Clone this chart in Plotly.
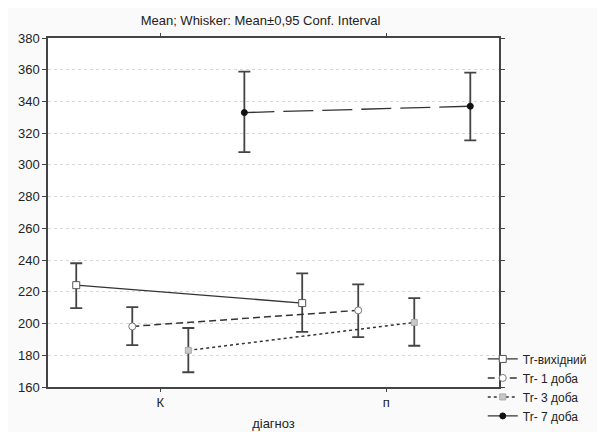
import plotly.graph_objects as go

categories = ["К", "п"]
series_names = ["Tr-вихідний", "Tr- 1 доба", "Tr- 3 доба", "Tr- 7 доба"]
means = [
    [224.2, 212.9],
    [198.2, 208.3],
    [183.1, 200.7],
    [333.0, 337.0],
]
upper = [
    [238.0, 231.6],
    [210.4, 224.7],
    [197.2, 216.0],
    [358.8, 358.2],
]
lower = [
    [209.7, 194.8],
    [186.4, 191.5],
    [169.3, 186.0],
    [308.0, 315.5],
]
y_ticks = list(range(160, 381, 20))

offsets = [-0.372, -0.124, 0.124, 0.372]
dashes = ["solid", "7px,4px", "dot", "30px,9px"]
symbols = ["square", "circle", "square", "circle"]
mfill = ["white", "white", "#c8c8c8", "#111111"]
mline = ["#555555", "#777777", "#aaaaaa", "#111111"]
msize = [7, 7, 6, 6]
lwidth = [1.3, 1.5, 1.5, 1.3]

fig = go.Figure()
for i, name in enumerate(series_names):
    xs = [j + offsets[i] for j in range(len(categories))]
    fig.add_trace(go.Scatter(
        x=xs, y=means[i], name=name, mode="lines+markers",
        line=dict(color="#333333", width=lwidth[i], dash=dashes[i]),
        marker=dict(symbol=symbols[i], size=msize[i], color=mfill[i],
                    line=dict(color=mline[i], width=1)),
        error_y=dict(type="data", symmetric=False,
                     array=[u - m for u, m in zip(upper[i], means[i])],
                     arrayminus=[m - l for l, m in zip(lower[i], means[i])],
                     color="#444444", thickness=1.8, width=6),
    ))

# the page body adds an 8px margin, so the figure is sized/offset to compensate
fig.update_layout(
    width=597, height=424,
    margin=dict(l=40, r=106, t=30, b=45, autoexpand=False),
    paper_bgcolor="#fafafa", plot_bgcolor="white",
    font=dict(family="Liberation Sans, Arial, sans-serif", size=13, color="#222222"),
    title=dict(text="Mean; Whisker: Mean±0,95 Conf. Interval", x=0.423, xanchor="center",
               y=0.970, yanchor="middle", font=dict(size=13)),
    showlegend=True,
    legend=dict(x=0.964, xanchor="left", y=0.122, yanchor="top",
                bgcolor="rgba(0,0,0,0)", itemwidth=30, tracegroupgap=0,
                font=dict(size=12), itemclick=False),
)
fig.update_xaxes(
    range=[-0.497, 1.499], tickmode="array", tickvals=list(range(len(categories))),
    ticktext=categories, showgrid=False, zeroline=False, automargin=False,
    showline=True, linecolor="#444444", linewidth=1.5, mirror="ticks",
    ticks="outside", ticklen=3, tickcolor="#444444",
    title=dict(text="діагноз", standoff=10, font=dict(size=13)),
)
fig.update_yaxes(
    range=[160, 380], tickmode="array", tickvals=y_ticks, automargin=False,
    showgrid=True, gridcolor="#d8d8d8", griddash="dot", gridwidth=1,
    zeroline=False, showline=True, linecolor="#444444", linewidth=1.5,
    mirror="ticks", ticks="outside", ticklen=4, tickcolor="#444444",
)
fig.write_html("out.html")
